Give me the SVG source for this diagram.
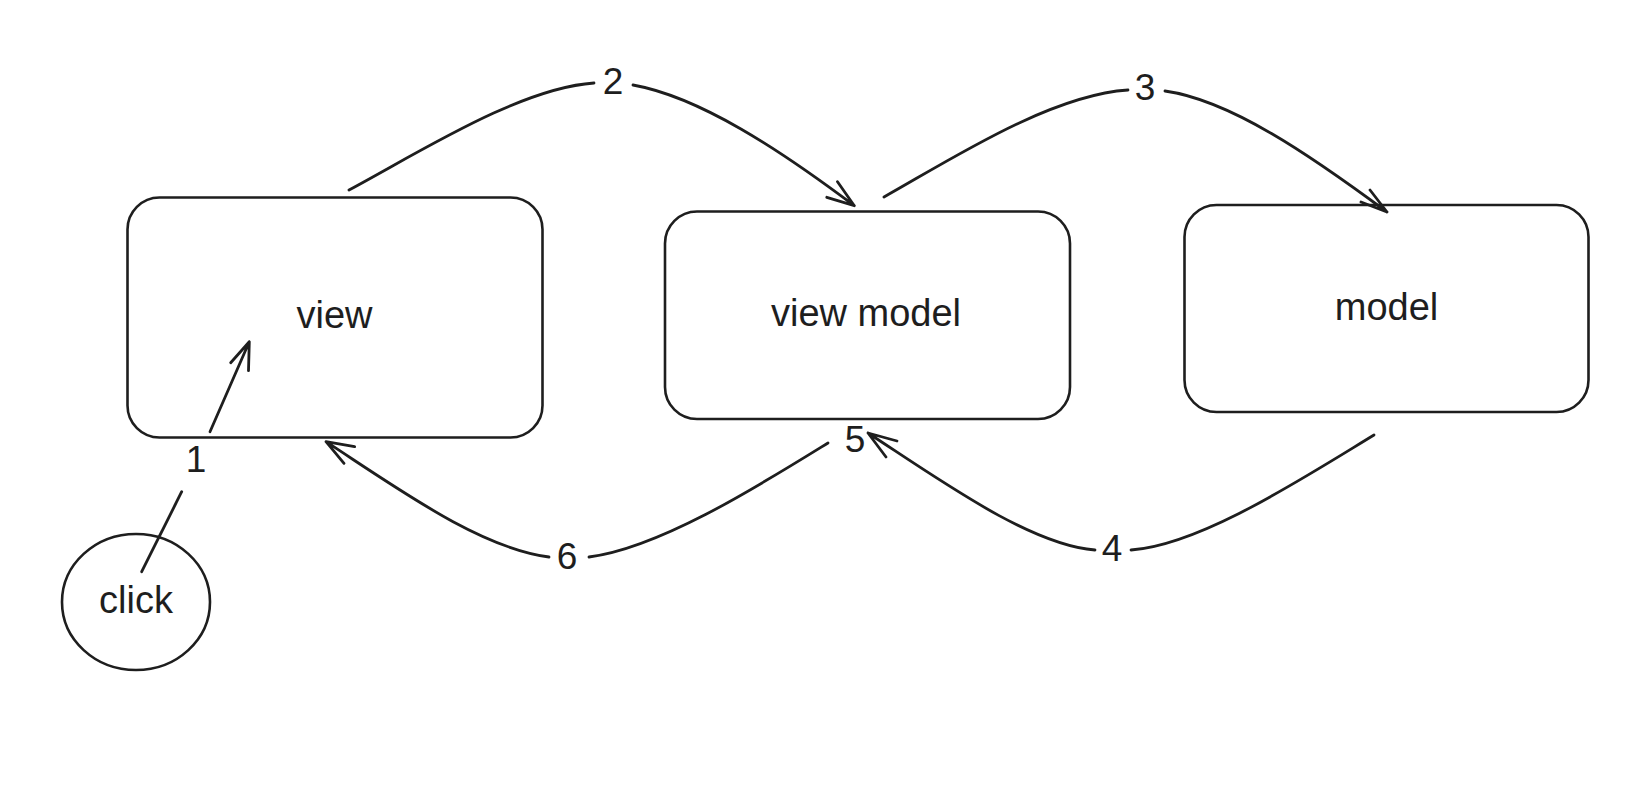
<svg xmlns="http://www.w3.org/2000/svg" width="1650" height="806" viewBox="0 0 1650 806">
<style>
.box{fill:#ffffff;stroke:#1e1e1e;stroke-width:2.6}
.lbl{font-family:"Liberation Sans","Noto Sans",sans-serif;font-size:38px;fill:#1e1e1e;text-anchor:middle}
.num{font-family:"Liberation Sans","Noto Sans",sans-serif;font-size:37px;fill:#1e1e1e;text-anchor:middle}
.ln{fill:none;stroke:#1e1e1e;stroke-width:2.8;stroke-linecap:round;stroke-linejoin:round}
</style>
<rect width="1650" height="806" fill="#ffffff"/>
<g id="view">
<rect class="box" x="127.5" y="197.5" width="415" height="240" rx="32"/>
<text class="lbl" x="334.5" y="328">view</text>
</g>
<g id="view-model">
<rect class="box" x="665" y="211.5" width="405" height="207.5" rx="32"/>
<text class="lbl" x="866" y="326">view model</text>
</g>
<g id="model">
<rect class="box" x="1184.5" y="205" width="404" height="207" rx="32"/>
<text class="lbl" x="1386.5" y="320">model</text>
</g>
<g id="click">
<ellipse class="box" cx="136" cy="602" rx="74" ry="68"/>
<text class="lbl" x="136" y="613">click</text>
</g>
<g id="connectors">
<!-- 1: click -> view -->
<path class="ln" d="M141.7,571.7 L181.7,491.7"/>
<path class="ln" d="M210,431.7 L249.3,341.7 M230.7,362.7 L249.3,341.7 L248.5,370.7"/>
<text class="num" x="196" y="472">1</text>
<!-- 2: view -> view model -->
<path class="ln" d="M349,190 C420,152 520,88 594,83"/>
<path class="ln" d="M633,85 C700,97 780,150 854.3,205.7 M837.5,181.7 L854.3,205.7 L826.8,197.3"/>
<text class="num" x="613" y="94">2</text>
<!-- 3: view model -> model -->
<path class="ln" d="M884,197 C950,160 1050,95 1128,90"/>
<path class="ln" d="M1165,91 C1230,100 1310,155 1387,212 M1370,190 L1387,212 L1361,202"/>
<text class="num" x="1145" y="100">3</text>
<!-- 4: model -> view model -->
<path class="ln" d="M1374,435 C1300,480 1200,545 1131,550"/>
<path class="ln" d="M1095,550 C1030,545 940,480 868,433 M897,441 L868,433 L886,457"/>
<text class="num" x="1112" y="561">4</text>
<!-- 5 label -->
<text class="num" x="855" y="452">5</text>
<!-- 6: view model -> view -->
<path class="ln" d="M828,443 C760,485 660,548 589,557"/>
<path class="ln" d="M549,557 C480,548 400,490 326,441.7 M354.6,446.7 L326,441.7 L344,463.3"/>
<text class="num" x="567" y="569">6</text>
</g>
</svg>
